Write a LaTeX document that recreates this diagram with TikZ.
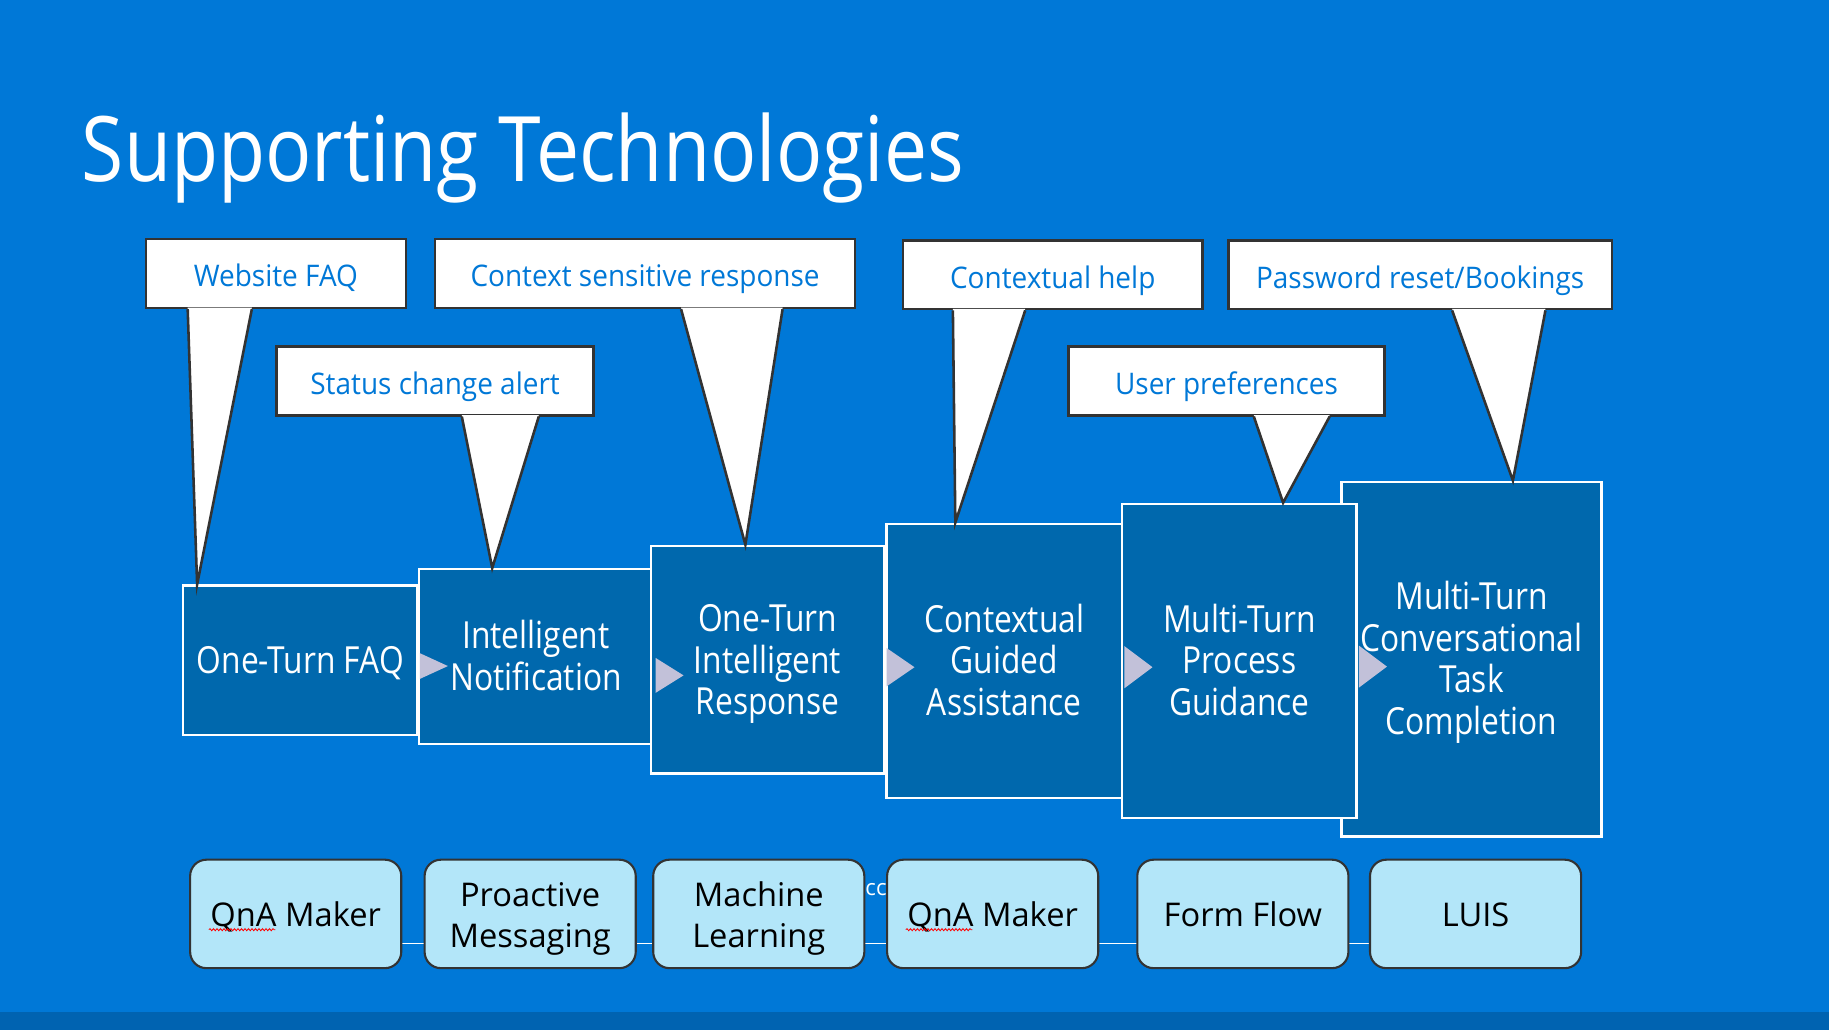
\documentclass[tikz,border=0pt]{standalone}
\usepackage{fontspec}
\setmainfont{Open Sans}
\newfontfamily\titlefont[FakeStretch=0.85]{Open Sans}
\newfontfamily\stagefont[FakeStretch=0.85]{Open Sans}
\newfontfamily\notefont[FakeStretch=0.94]{Open Sans}
\newfontfamily\techfont[FakeStretch=1.0]{Open Sans}
\usetikzlibrary{calc,positioning,decorations.pathmorphing}

\definecolor{slideblue}{HTML}{0078D7}
\definecolor{stepblue}{HTML}{0068AD}
\definecolor{bandblue}{HTML}{0063B1}
\definecolor{techcyan}{HTML}{B3E6F9}
\definecolor{chevgray}{HTML}{C2C1D9}
\definecolor{edgegray}{HTML}{333333}

% testo centrato, abbassato di #1/2 dentro il riquadro
\newcommand\lowtext[2]{\raisebox{0pt}[\dimexpr\height+#1\relax][\depth]{\begin{tabular}{@{}c@{}}#2\end{tabular}}}

\begin{document}
\begin{tikzpicture}[x=1pt, y=-1pt,
  stage/.style={draw=white, line width=2pt, fill=stepblue, text=white,
    inner sep=0pt, font=\stagefont\fontsize{32}{35.5}\selectfont},
  note/.style={draw=edgegray, line width=2.2pt, fill=white, text=slideblue, inner sep=0pt,
    minimum height=59pt, font=\notefont\fontsize{25.5}{30}\selectfont},
  tail/.style={draw=edgegray, line width=2.2pt, line join=miter},
  chev/.style={fill=chevgray},
  tech/.style={draw=edgegray, line width=1.8pt, fill=techcyan, rounded corners=14pt,
    minimum width=181pt, minimum height=93pt, inner sep=0pt,
    font=\techfont\fontsize{28}{35}\selectfont},
  wire/.style={draw=white, line width=1.2pt},
  squiggle/.style={draw=red, line width=0.7pt, decorate,
    decoration={snake, amplitude=0.9pt, segment length=3pt}}
]

  % ----------------------
  % Sfondo della slide
  % ----------------------
  \fill[slideblue] (0,0) rectangle (1568,883);
  \fill[bandblue] (0,868) rectangle (1568,883);
  \useasboundingbox (0,0) rectangle (1568,883);

  \node[anchor=base west, inner sep=0pt, text=white, font=\titlefont\fontsize{77.5}{80}\selectfont]
    (title) at (70,156) {Supporting Technologies};

  % ----------------------
  % Gradini (l'ultimo sta dietro al penultimo)
  % ----------------------
  \node[stage, minimum width=223pt, minimum height=304pt] (mtask) at (1261.5,565)
    {\lowtext{8pt}{Multi-Turn\\Conversational\\Task\\Completion}};
  \node[stage, minimum width=201pt, minimum height=128pt] (faq) at (257.5,566)
    {\lowtext{8pt}{One-Turn FAQ}};
  \node[stage, minimum width=201pt, minimum height=150pt] (notif) at (459.5,563)
    {\lowtext{8pt}{Intelligent\\Notification}};
  \node[stage, minimum width=200pt, minimum height=195pt] (resp) at (658,565.5)
    {\lowtext{9pt}{One-Turn\\Intelligent\\Response}};
  \node[stage, minimum width=202pt, minimum height=235pt] (guide) at (861,566.5)
    {\lowtext{8pt}{Contextual\\Guided\\Assistance}};
  \node[stage, minimum width=201pt, minimum height=269pt] (proc) at (1062.5,566.5)
    {\lowtext{8pt}{Multi-Turn\\Process\\Guidance}};

  % frecce tra i gradini
  \foreach \src/\dy/\h in {faq/5/11, notif/16/15, resp/6.5/16.5, guide/5.5/18, proc/5/18}{
    \fill[chev] ($(\src.east)+(1,\dy-\h)$) -- ++(24,\h) -- ++(-24,\h) -- cycle;
  }

  % ----------------------
  % Fumetti con la punta sul gradino
  % ----------------------
  \node[note, minimum width=223pt] (wfaq) at (236.5,234.5) {\lowtext{11pt}{Website FAQ}};
  \node[note, minimum width=272pt] (status) at (373,326.5) {\lowtext{11pt}{Status change alert}};
  \node[note, minimum width=360pt] (ctx) at (553,234.5) {\lowtext{11pt}{Context sensitive response}};
  \node[note, minimum width=257pt] (chelp) at (902.5,235.5) {\lowtext{11pt}{Contextual help}};
  \node[note, minimum width=271pt] (upref) at (1051.5,326.5) {\lowtext{11pt}{User preferences}};
  \node[note, minimum width=329pt] (pwd) at (1217.5,235.5) {\lowtext{11pt}{Password reset/Bookings}};

  \foreach \n/\l/\r/\t/\tx in {wfaq/37/92/faq/13, status/160/226/notif/64,
      ctx/212/299/resp/82, chelp/44/106/guide/60, upref/160/225/proc/139,
      pwd/193/273/mtask/148}{
    \coordinate (tip) at ($(\t.north west)+(\tx,0)$);
    \fill[white] ($(\n.south west)+(\l,-1.3)$) -- (tip) -- ($(\n.south west)+(\r,-1.3)$) -- cycle;
    \draw[tail] ($(\n.south west)+(\l,0)$) -- (tip) -- ($(\n.south west)+(\r,0)$);
  }

  % ----------------------
  % Tecnologie in basso
  % ----------------------
  \coordinate (wireL) at (344,809);
  \coordinate (wireR) at (1175,809);
  \draw[wire] (wireL) -- (wireR);

  \node[text=white, inner sep=0pt, font=\techfont\fontsize{19}{22}\selectfont] (ccmark) at (751,763) {cc};

  \node[tech] (qna) at (253.5,783.5) {\lowtext{8pt}{QnA Maker}};
  \node[tech] (push) at (454.5,783.5) {\lowtext{8pt}{Proactive\\Messaging}};
  \node[tech] (ml) at (650.5,783.5) {\lowtext{8pt}{Machine\\Learning}};
  \node[tech] (qnb) at (851,783.5) {\lowtext{8pt}{QnA Maker}};
  \node[tech] (form) at (1065.5,783.5) {\lowtext{8pt}{Form Flow}};
  \node[tech] (luis) at (1265,783.5) {\lowtext{8pt}{LUIS}};

  \draw[squiggle] ($(qna.west)+(17,13.5)$) -- ++(57,0);
  \draw[squiggle] ($(qnb.west)+(17,13.5)$) -- ++(57,0);

\end{tikzpicture}
\end{document}
